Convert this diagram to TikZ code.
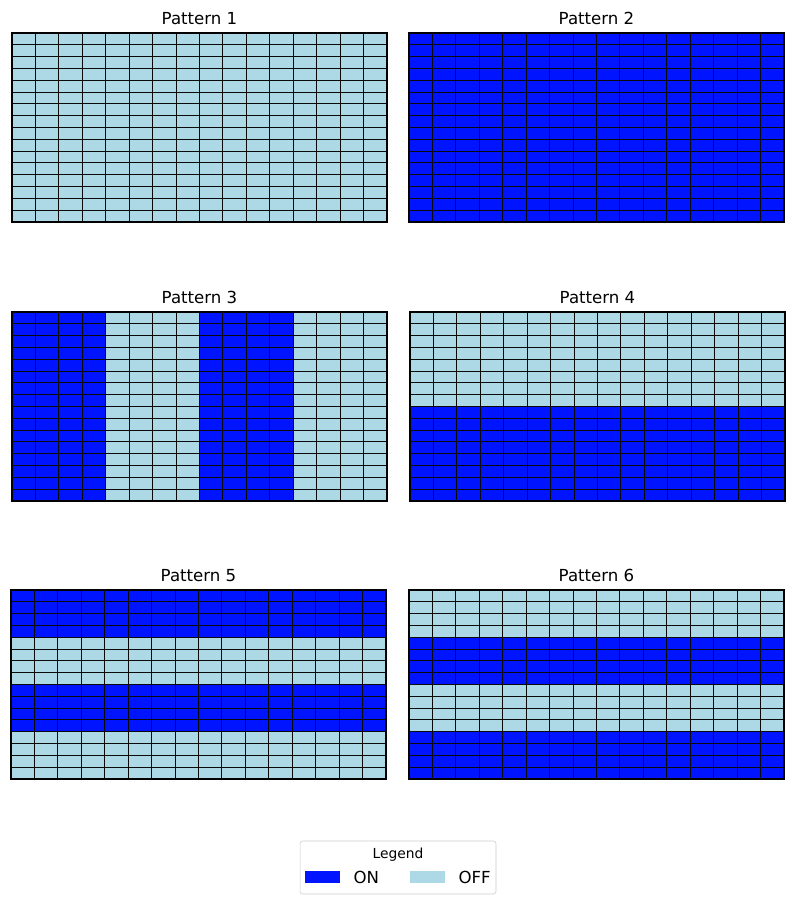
\documentclass[tikz,border=0pt]{standalone}
\usepackage{fontspec}
\setmainfont{DejaVu Sans}
\usetikzlibrary{positioning}
\definecolor{onblue}{HTML}{0014FF}
\definecolor{offblue}{HTML}{ADD8E6}
\definecolor{framegray}{HTML}{CCCCCC}
\definecolor{cellgray}{HTML}{0A0A0A}

\newcommand{\cw}{23.4375}
\newcommand{\ch}{11.8125}
% \patternpanel{name}{x}{y}{title}{on bands c0/c1/r0/r1}
\newcommand{\patternpanel}[5]{%
  \begin{scope}[shift={(#2,#3)}]
    \fill[offblue] (0,0) rectangle (375,189);
    \foreach \ca/\cb/\ra/\rb in {#5}
      \fill[onblue] ({\ca*\cw},{\ra*\ch}) rectangle ({\cb*\cw},{\rb*\ch});
    \foreach \i in {1,...,15} {
      \draw[cellline] ({\i*\cw},0) -- ({\i*\cw},189);
      \draw[cellline] (0,{\i*\ch}) -- (375,{\i*\ch});
    }
    \draw[spine] (0,0) rectangle (375,189);
    \node[paneltitle] (#1) at (187.5,-9) {#4};
  \end{scope}}

\begin{document}
\begin{tikzpicture}[
  x=0.0254cm, y=-0.0254cm,
  cellline/.style={draw=cellgray, line width=0.75pt},
  spine/.style={draw=black, line width=1.2pt},
  paneltitle/.style={anchor=base, inner sep=0pt, font=\fontsize{12}{14}\selectfont},
  keypatch/.style={minimum width=0.889cm, minimum height=0.305cm, inner sep=0pt},
  keylabel/.style={inner sep=0pt, font=\fontsize{12}{14}\selectfont}
]
  \useasboundingbox (0,0) rectangle (795,903);

  \patternpanel{t1}{12}{33}{Pattern 1}{0/16/0/0}
  \patternpanel{t2}{409}{33}{Pattern 2}{0/16/0/16}
  \patternpanel{t3}{12}{312}{Pattern 3}{0/4/0/16, 8/12/0/16}
  \patternpanel{t4}{410}{312}{Pattern 4}{0/16/8/16}
  \patternpanel{t5}{11}{590}{Pattern 5}{0/16/0/4, 0/16/8/12}
  \patternpanel{t6}{409}{590}{Pattern 6}{0/16/4/8, 0/16/12/16}

  % legend
  \node[draw=framegray, rounded corners=2pt, minimum width=4.978cm, minimum height=1.346cm] (legend) at (398,867.5) {};
  \node[font=\fontsize{10}{12}\selectfont, inner sep=0pt] (legtitle) at (398,855) {Legend};
  \node[keypatch, fill=onblue] (onkey) at (322.5,877) {};
  \node[keylabel, right=0.33cm of onkey] (onlabel) {ON};
  \node[keypatch, fill=offblue] (offkey) at (427.5,877) {};
  \node[keylabel, right=0.33cm of offkey] (offlabel) {OFF};
\end{tikzpicture}
\end{document}
